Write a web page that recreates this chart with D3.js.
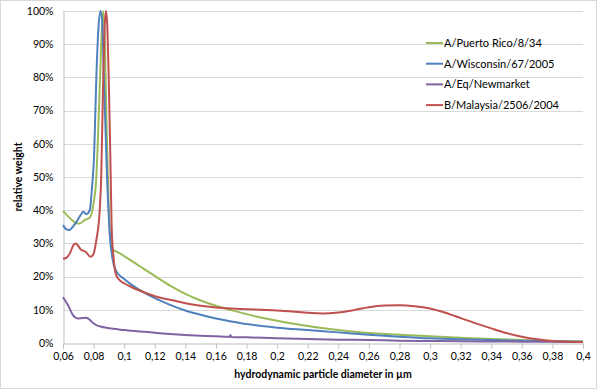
<!DOCTYPE html>
<html>
<head>
<meta charset="utf-8">
<script src="https://cdn.jsdelivr.net/npm/d3@7"></script>
<style>
  html, body { margin: 0; padding: 0; background: #fff; }
  svg text { font-family: Lato, "Open Sans", sans-serif; fill: #000; }
</style>
</head>
<body>
<div id="chart"></div>
<script>
// diameter (µm), relative weight (%)
const puertoRico = [[0.06, 39.8], [0.063, 38.3], [0.066, 37], [0.069, 36], [0.071, 36], [0.074, 37], [0.0775, 37.8], [0.0796, 41], [0.0818, 50], [0.0835, 70], [0.085, 90], [0.0862, 100], [0.0874, 90], [0.0885, 65], [0.0898, 42], [0.091, 31], [0.093, 28], [0.095, 27.5], [0.1, 26.2], [0.11, 23.2], [0.12, 20.2], [0.13, 17.3], [0.14, 14.8], [0.15, 12.8], [0.16, 11.2], [0.17, 9.9], [0.18, 8.7], [0.19, 7.6], [0.2, 6.7], [0.22, 5.1], [0.24, 3.9], [0.26, 3.0], [0.28, 2.5], [0.3, 2.0], [0.32, 1.6], [0.34, 1.2], [0.36, 0.9], [0.38, 0.6], [0.4, 0.5]];
const wisconsin = [[0.06, 35.5], [0.062, 34.3], [0.064, 34], [0.066, 34.8], [0.0688, 36.5], [0.0715, 38.5], [0.0731, 39.5], [0.0753, 38.8], [0.0775, 40], [0.079, 47], [0.0803, 56], [0.0818, 80], [0.0832, 95], [0.0846, 100], [0.0858, 95], [0.0866, 82], [0.0888, 50], [0.0907, 32], [0.0925, 25], [0.095, 21.5], [0.1, 19.3], [0.105, 17.5], [0.11, 16], [0.12, 13.5], [0.13, 11.5], [0.14, 9.8], [0.15, 8.5], [0.16, 7.4], [0.17, 6.5], [0.18, 5.7], [0.19, 5.1], [0.2, 4.6], [0.22, 3.9], [0.24, 3.2], [0.26, 2.5], [0.28, 1.9], [0.3, 1.4], [0.32, 1.1], [0.34, 0.9], [0.36, 0.7], [0.38, 0.5], [0.4, 0.4]];
const newmarket = [[0.06, 13.8], [0.0633, 11.4], [0.0665, 8.4], [0.0698, 7.4], [0.0725, 7.5], [0.0748, 7.6], [0.077, 7.2], [0.0795, 6.1], [0.0818, 5.4], [0.085, 4.9], [0.0884, 4.6], [0.095, 4.2], [0.1, 3.9], [0.11, 3.5], [0.12, 3.1], [0.13, 2.7], [0.14, 2.4], [0.15, 2.2], [0.16, 2.0], [0.169, 1.85], [0.1695, 2.4], [0.17, 1.8], [0.18, 1.7], [0.2, 1.4], [0.22, 1.2], [0.24, 1.0], [0.26, 0.9], [0.28, 0.7], [0.3, 0.6], [0.32, 0.5], [0.34, 0.45], [0.36, 0.4], [0.38, 0.35], [0.4, 0.3]];
const malaysia = [[0.06, 25.4], [0.062, 25.6], [0.0645, 27], [0.0668, 29.5], [0.0683, 30], [0.072, 28], [0.0748, 27.5], [0.0779, 26], [0.0796, 26.5], [0.0818, 31], [0.084, 40], [0.085, 50], [0.0863, 80], [0.0872, 95], [0.0881, 100], [0.089, 95], [0.0899, 80], [0.0912, 50], [0.0918, 35], [0.0931, 25.5], [0.0944, 21], [0.0959, 19.5], [0.1, 18], [0.105, 16.8], [0.11, 15.8], [0.12, 14.1], [0.13, 13], [0.14, 12], [0.15, 11.2], [0.16, 10.7], [0.17, 10.4], [0.18, 10.2], [0.19, 10.0], [0.2, 9.8], [0.21, 9.5], [0.22, 9.1], [0.23, 8.9], [0.24, 9.2], [0.25, 9.9], [0.26, 10.8], [0.27, 11.3], [0.28, 11.4], [0.29, 11.1], [0.3, 10.4], [0.31, 9.1], [0.32, 7.5], [0.33, 5.9], [0.34, 4.4], [0.35, 3.0], [0.36, 1.9], [0.37, 1.1], [0.38, 0.6], [0.39, 0.4], [0.4, 0.3]];

const seriesNames = ['A/Puerto Rico/8/34', 'A/Wisconsin/67/2005', 'A/Eq/Newmarket', 'B/Malaysia/2506/2004'];
const seriesData = [puertoRico, wisconsin, newmarket, malaysia];
const colors = ['#9bbb59', '#4f81bd', '#8064a2', '#c0504d'];

const xTicks = d3.range(0.06, 0.4001, 0.02);
const yTicks = d3.range(0, 101, 10);

const width = 600, height = 392;
const margin = { top: 11, right: 17, bottom: 49, left: 63 };

const svg = d3.select('#chart').append('svg')
  .attr('width', width)
  .attr('height', height);

svg.append('rect')
  .attr('x', 0.5).attr('y', 0.5)
  .attr('width', width - 4).attr('height', height - 4)
  .attr('fill', '#fff')
  .attr('stroke', '#d9d9d9');

const x = d3.scaleLinear().domain([0.06, 0.4]).range([margin.left, width - margin.right]);
const y = d3.scaleLinear().domain([0, 100]).range([height - margin.bottom, margin.top]);

const fmtX = d => d3.format('.2~f')(d).replace('.', ',');

// horizontal gridlines
svg.append('g')
  .selectAll('line')
  .data(yTicks.filter(d => d > 0))
  .join('line')
  .attr('x1', x(0.06)).attr('x2', x(0.4))
  .attr('y1', d => Math.round(y(d)) + 0.5)
  .attr('y2', d => Math.round(y(d)) + 0.5)
  .attr('stroke', '#d9d9d9');

// y axis
const yAxis = svg.append('g')
  .attr('transform', `translate(${Math.round(x(0.06)) + 0.5},0)`)
  .call(d3.axisLeft(y).tickValues(yTicks).tickSize(0).tickPadding(10).tickFormat(d => d + '%'));
yAxis.select('.domain').attr('stroke', '#bfbfbf');
yAxis.selectAll('text').style('font-size', '10.5px');

// x axis
const xAxis = svg.append('g')
  .attr('transform', `translate(0,${Math.round(y(0)) + 0.5})`)
  .call(d3.axisBottom(x).tickValues(xTicks).tickSize(5).tickPadding(4).tickFormat(fmtX));
xAxis.select('.domain').attr('stroke', '#bfbfbf');
xAxis.selectAll('line').attr('stroke', '#bfbfbf');
xAxis.selectAll('text').style('font-size', '10.5px');

const line = d3.line()
  .x(d => x(d[0]))
  .y(d => y(d[1]))
  .curve(d3.curveMonotoneX);

svg.append('g')
  .selectAll('path')
  .data(seriesData)
  .join('path')
  .attr('d', line)
  .attr('fill', 'none')
  .attr('stroke', (d, i) => colors[i])
  .attr('stroke-width', 2);

// legend
const legend = svg.append('g').attr('transform', 'translate(426,43)');
const item = legend.selectAll('g')
  .data(seriesNames)
  .join('g')
  .attr('transform', (d, i) => `translate(0,${i * 20.7})`);
item.append('line')
  .attr('x1', 0).attr('x2', 17)
  .attr('stroke', (d, i) => colors[i])
  .attr('stroke-width', 2);
item.append('text')
  .attr('x', 18)
  .attr('dy', '0.35em')
  .style('font-size', '11px')
  .text(d => d);

// axis titles
svg.append('text')
  .attr('x', (x(0.06) + x(0.4)) / 2)
  .attr('y', 378)
  .attr('text-anchor', 'middle')
  .style('font-size', '10.5px')
  .style('font-weight', 'bold')
  .text('hydrodynamic particle diameter in µm');

svg.append('text')
  .attr('transform', `translate(22,${(y(0) + y(100)) / 2}) rotate(-90)`)
  .attr('text-anchor', 'middle')
  .style('font-size', '10.5px')
  .style('font-weight', 'bold')
  .text('relative weight');
</script>
</body>
</html>
